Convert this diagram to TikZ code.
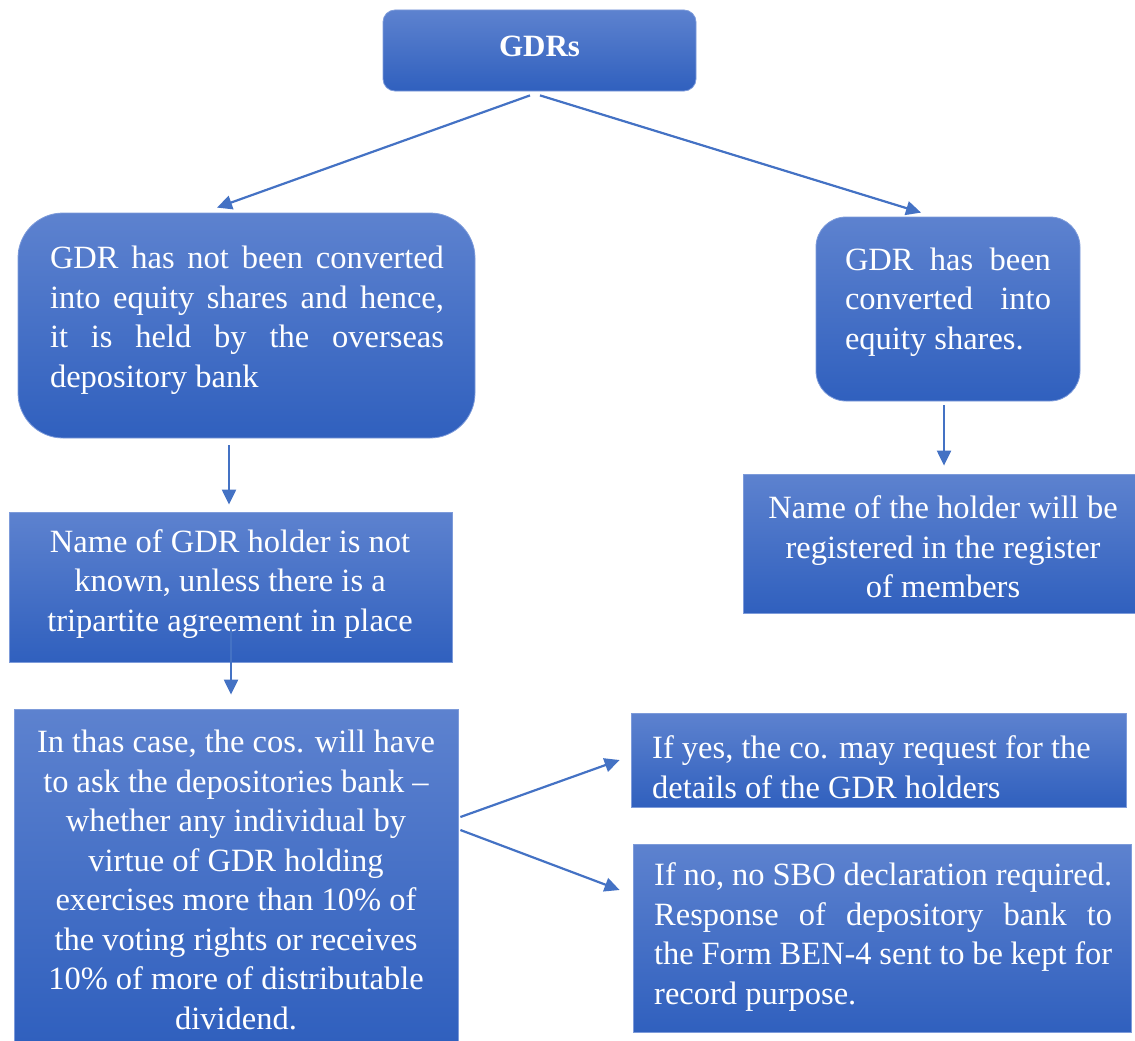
\documentclass[tikz,border=0pt]{standalone}
\usepackage{fontspec}
\setmainfont{Liberation Serif}
\usetikzlibrary{arrows.meta}
\definecolor{boxtop}{RGB}{93,130,207}
\definecolor{boxbot}{RGB}{48,96,190}
\definecolor{boxedge}{RGB}{125,155,218}
\definecolor{arrcol}{RGB}{68,114,196}
\newcommand{\jl}[2]{\makebox[#1][s]{#2}}
\begin{document}
\begin{tikzpicture}[x=1pt,y=-1pt,
  box/.style={draw=boxedge, line width=0.8pt, top color=boxtop, bottom color=boxbot, inner sep=0pt},
  txt/.style={text=white, inner sep=0pt, font=\fontsize{32.5}{39.5}\selectfont},
  arr/.style={draw=arrcol, line width=2.2pt, -{Triangle[length=15pt,width=14pt]}}]
\useasboundingbox (0,0) rectangle (1135,1041);
% boxes
\node[box, rounded corners=12pt, minimum width=313pt, minimum height=81pt] (gdr) at (539.5,50.5) {};
\node[box, rounded corners=45pt, minimum width=457pt, minimum height=225pt] (left) at (246.5,325.5) {};
\node[box, rounded corners=30pt, minimum width=264pt, minimum height=184pt] (right) at (948,309) {};
\node[box, minimum width=392pt, minimum height=139pt] (reg) at (939,543.5) {};
\node[box, minimum width=443pt, minimum height=150pt] (holder) at (230.5,587) {};
\node[box, minimum width=444pt, minimum height=332pt] (case) at (236,875) {};
\node[box, minimum width=495pt, minimum height=94pt] (yes) at (878.5,760) {};
\node[box, minimum width=498pt, minimum height=188pt] (no) at (882,938) {};
% texts
\node[txt, font=\fontsize{31}{36}\selectfont\bfseries] (tgdr) at (539.5,46) {GDRs};
\node[txt, align=left] (tleft) at (247,320) {\jl{394pt}{GDR has not been converted}\\\jl{394pt}{into equity shares and hence,}\\\jl{394pt}{it is held by the overseas}\\\makebox[394pt][l]{depository bank}};
\node[txt, align=left] (tright) at (948,302) {\jl{206pt}{GDR has been}\\\jl{206pt}{converted into}\\\makebox[206pt][l]{equity shares.}};
\node[txt, align=center] (treg) at (943,547) {Name of the holder will be\\registered in the register\\of members};
\node[txt, align=center] (tholder) at (230,584) {Name of GDR holder is not\\known, unless there is a\\tripartite agreement in place};
\node[txt, align=center] (tcase) at (236,880) {In thas case, the cos. will have\\to ask the depositories bank --\\whether any individual by\\virtue of GDR holding\\exercises more than 10\% of\\the voting rights or receives\\10\% of more of distributable\\dividend.};
\node[txt, align=left, anchor=west] (tyes) at (652,767) {If yes, the co. may request for the\\details of the GDR holders};
\node[txt, align=left, anchor=west] (tno) at (654,937) {\jl{458pt}{If no, no SBO declaration required.}\\\jl{458pt}{Response of depository bank to}\\\jl{458pt}{the Form BEN-4 sent to be kept for}\\record purpose.};
% connectors
\draw[arr] ([xshift=-9.5pt,yshift=-4pt]gdr.south) -- ([xshift=-29.5pt,yshift=5pt]left.north);
\draw[arr] ([xshift=0.5pt,yshift=-4pt]gdr.south) -- ([xshift=-27pt,yshift=4pt]right.north);
\draw[arr] ([xshift=-17.5pt,yshift=-7pt]left.south) -- ([xshift=-1.5pt,yshift=7pt]holder.north);
\draw[arr] ([xshift=-4pt,yshift=-4pt]right.south) -- ([xshift=5pt,yshift=8pt]reg.north);
\draw[arr] ([xshift=0.5pt,yshift=-38pt]holder.center) -- ([xshift=-5pt,yshift=14pt]case.north);
\draw[arr] ([xshift=2pt,yshift=58pt]case.east) -- ([xshift=-11pt]yes.west);
\draw[arr] ([xshift=2pt,yshift=45pt]case.east) -- ([xshift=-13pt,yshift=48pt]no.west);
\end{tikzpicture}
\end{document}
